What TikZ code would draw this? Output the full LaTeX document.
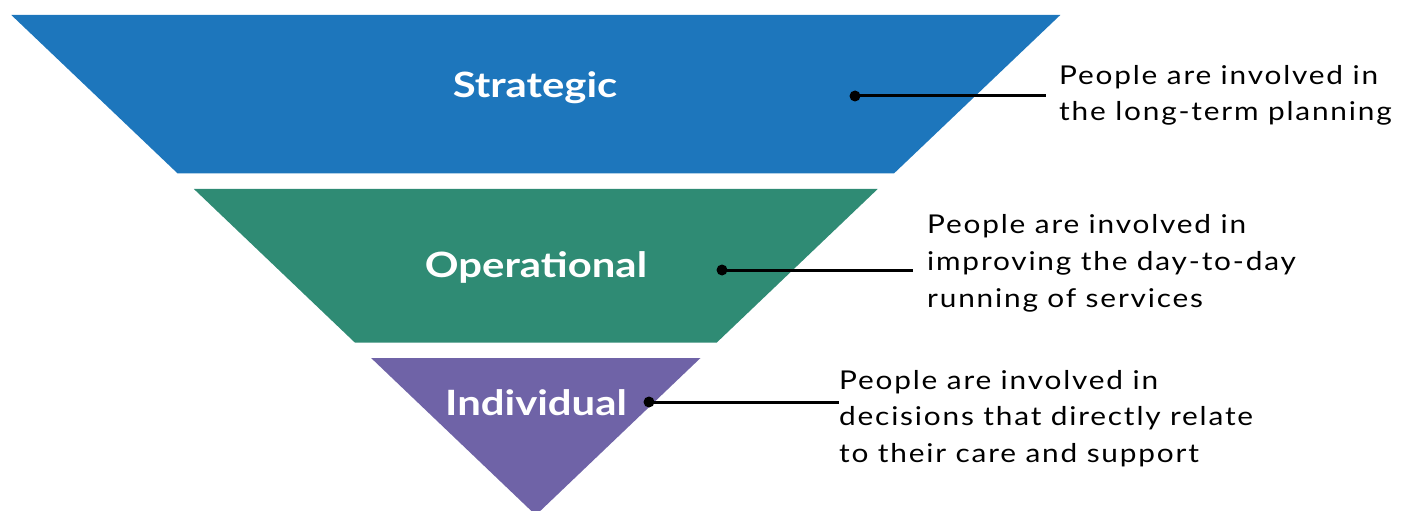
\documentclass[tikz,border=0pt]{standalone}
\usepackage{fontspec}
\setmainfont{Lato}
\newfontfamily\notefont{Lato}[FakeStretch=1.15,LetterSpace=7]
\newfontfamily\levelfont{Lato}[FakeStretch=1.2]
\usetikzlibrary{positioning}
\definecolor{strategicblue}{RGB}{29,118,188}
\definecolor{operationalgreen}{RGB}{47,139,116}
\definecolor{individualpurple}{RGB}{111,99,167}

\begin{document}
\begin{tikzpicture}[x=1bp,y=-1bp,
  level/.style={anchor=base,text=white,inner sep=0pt,font=\levelfont\fontsize{35}{40}\selectfont\bfseries},
  note/.style={anchor=base west,align=left,inner sep=0pt,font=\notefont\fontsize{26}{36.7}\selectfont},
  dot/.style={circle,fill=black,inner sep=0pt,minimum size=11bp},
  lead/.style={line width=3bp}]
\useasboundingbox (0,0) rectangle (1405,511);
\fill[strategicblue] (11.3,15) -- (1060.3,15) -- (893.9,173.5) -- (177.7,173.5) -- cycle;
\fill[operationalgreen] (193.9,189) -- (877.7,189) -- (716.6,342.7) -- (355,342.7) -- cycle;
\fill[individualpurple] (371.1,358) -- (700.5,358) -- (535.8,515.2) -- cycle;
\node[level] (strategic) at (535,97.7) {Strategic};
\node[level] (operational) at (536,277.7) {Operational};
\node[level] (individual) at (536,415) {Individual};
\node[dot] (d1) at (855,96) {};
\node[dot] (d2) at (722,270) {};
\node[dot] (d3) at (649,402) {};
\node[note] (n1) at (1059,121) {People are involved in\\the long-term planning};
\node[note] (n2) at (927,307) {People are involved in\\improving the day-to-day\\running of services};
\node[note] (n3) at (839,462.5) {People are involved in\\decisions that directly relate\\to their care and support};
\draw[lead,shorten >=13bp] (d1.center) -- (d1 -| n1.west);
\draw[lead,shorten >=14bp] (d2.center) -- (d2 -| n2.west);
\draw[lead] (d3.center) -- (d3 -| n3.west);
\end{tikzpicture}
\end{document}
